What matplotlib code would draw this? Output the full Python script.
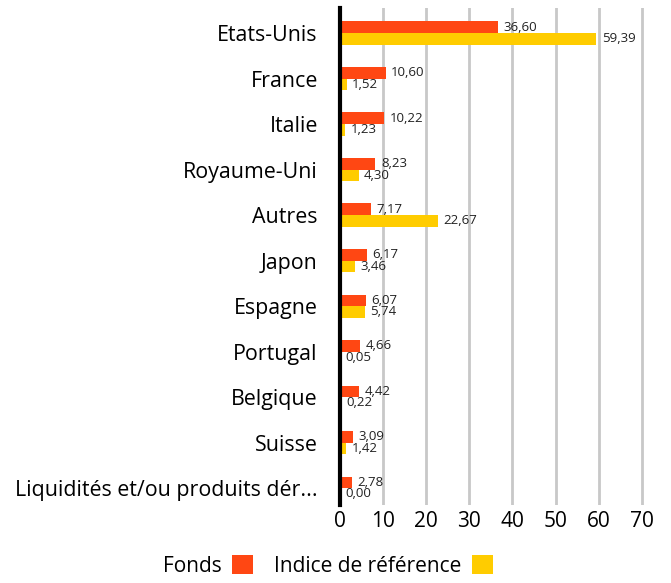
import numpy as np
import matplotlib
matplotlib.use("Agg")
import matplotlib.pyplot as plt

plt.rcParams['font.family'] = ['Open Sans', 'DejaVu Sans']

pays = ["Etats-Unis", "France", "Italie", "Royaume-Uni", "Autres", "Japon",
        "Espagne", "Portugal", "Belgique", "Suisse",
        "Liquidités et/ou produits dér..."]
fonds = [36.60, 10.60, 10.22, 8.23, 7.17, 6.17, 6.07, 4.66, 4.42, 3.09, 2.78]
indice = [59.39, 1.52, 1.23, 4.30, 22.67, 3.46, 5.74, 0.05, 0.22, 1.42, 0.00]

c_fonds = "#FF4713"
c_indice = "#FFCC00"

fig = plt.figure(figsize=(6.71, 5.83), dpi=100)
ax = fig.add_axes([340 / 671, 78 / 583, 307 / 671, 497 / 583])

y = np.arange(len(pays))
h = 0.255
b1 = ax.barh(y - h / 2, fonds, height=h, color=c_fonds, label="Fonds", zorder=3)
b2 = ax.barh(y + h / 2, indice, height=h, color=c_indice,
             label="Indice de référence", zorder=3)

def fmt(v):
    return f"{v:.2f}".replace(".", ",")

for bars, vals in ((b1, fonds), (b2, indice)):
    for bar, v in zip(bars, vals):
        ax.annotate(fmt(v), (v, bar.get_y() + bar.get_height() / 2),
                    xytext=(4, 0), textcoords="offset points",
                    va="center", ha="left", fontsize=9.5, color="#222222")

ax.set_xlim(0, 71.2)
ax.set_ylim(len(pays) - 1 + 0.37, -0.55)
ax.set_yticks(y)
ax.set_yticklabels(pays, fontsize=15.4)
ax.set_xticks(np.arange(0, 71, 10))
ax.tick_params(axis="x", labelsize=15, length=0, pad=4)
ax.tick_params(axis="y", length=0, pad=16)

ax.grid(axis="x", color="#c8c8c8", linewidth=2, zorder=0)
for s in ("top", "right", "bottom"):
    ax.spines[s].set_visible(False)
ax.spines["left"].set_linewidth(3)
ax.spines["left"].set_color("black")
ax.spines["left"].set_zorder(4)

fig.legend(handles=[b1, b2], loc="center", bbox_to_anchor=(328 / 671, 1 - 566 / 583),
           ncol=2, frameon=False, markerfirst=False, fontsize=15,
           handlelength=1.0, handleheight=1.0, columnspacing=1.0, handletextpad=0.5)

fig.savefig("out.png", dpi=100)
